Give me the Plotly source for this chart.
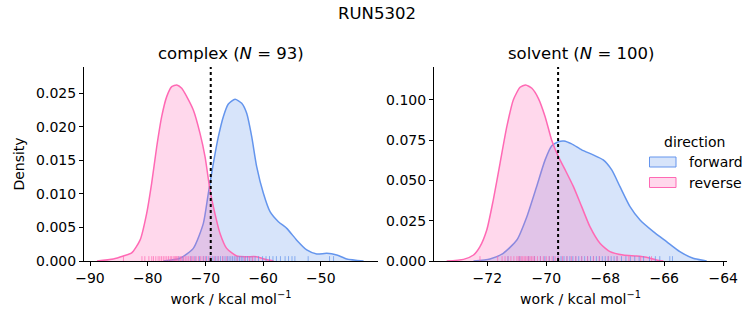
import plotly.graph_objects as go

W, H = 753, 325

# ---------------- data ----------------
# complex leg: KDE curves (work in kcal/mol, density)
cx_fwd_x = [-77.3, -74.4, -72.10, -70.36, -69.5, -68.63, -67.76, -66.9, -66.03, -64.87, -63.71,
            -62.85, -61.98, -61.12, -59.96, -58.81, -57.36, -55.91, -54.18, -52.45, -50.72,
            -48.98, -47.25, -45.52, -42.6]
cx_fwd_y = [0.0, 0.0004, 0.00188, 0.0056, 0.01007, 0.01453, 0.0185, 0.02148, 0.02336, 0.02406,
            0.02346, 0.02197, 0.0185, 0.01404, 0.01007, 0.00734, 0.00585, 0.00486, 0.0031,
            0.00164, 0.00104, 0.00114, 0.00089, 0.0003, 0.0]
cx_rev_x = [-88.8, -85.96, -84.22, -82.78, -81.33, -80.18, -79.32, -78.44, -77.58, -76.71, -75.84,
            -74.97, -74.11, -73.24, -72.10, -70.94, -70.07, -69.21, -68.63, -67.47, -66.32,
            -64.58, -62.85, -61.12, -59.67, -58.2]
cx_rev_y = [0.0, 0.0003, 0.00074, 0.0012, 0.0031, 0.0071, 0.01156, 0.0170, 0.02148, 0.02446,
            0.02594, 0.02619, 0.0257, 0.02446, 0.02247, 0.0190, 0.01553, 0.01057, 0.00809,
            0.0041, 0.00188, 0.00074, 0.00064, 0.00064, 0.00025, 0.0]

# solvent leg
sv_fwd_x = [-72.47, -71.91, -71.46, -71.0, -70.66, -70.33, -70.04, -69.82, -69.59, -69.40, -69.14,
            -68.80, -68.41, -68.07, -67.78, -67.50, -67.16, -66.82, -66.37, -65.92, -65.47,
            -65.02, -64.56]
sv_fwd_y = [0.0, 0.0012, 0.0048, 0.013, 0.0275, 0.0461, 0.0627, 0.0713, 0.0740, 0.0744, 0.0726,
            0.0689, 0.0658, 0.0627, 0.0565, 0.0461, 0.0337, 0.0254, 0.0182, 0.012, 0.0058,
            0.0017, 0.0]
sv_rev_x = [-73.38, -72.81, -72.47, -72.25, -72.02, -71.80, -71.57, -71.34, -71.12, -70.89, -70.70,
            -70.49, -70.27, -70.04, -69.82, -69.59, -69.36, -69.08, -68.80, -68.52, -68.18,
            -67.84, -67.39, -66.94, -66.60, -66.26, -66.03]
sv_rev_y = [0.0, 0.001, 0.0037, 0.0089, 0.0192, 0.0378, 0.0606, 0.0833, 0.0999, 0.1077, 0.1092,
            0.1071, 0.1009, 0.0895, 0.0751, 0.0647, 0.0565, 0.0461, 0.0337, 0.0213, 0.011,
            0.0058, 0.0037, 0.0031, 0.0023, 0.0006, 0.0]

# rug samples (estimated positions)
cx_fwd_rug = [-74.6, -73.9, -72.5, -71.8, -71.0, -70.3, -69.8, -69.2, -68.7, -68.2, -67.8, -67.4,
              -67.0, -66.6, -66.2, -65.9, -65.6, -65.3, -65.0, -64.7, -64.4, -64.1, -63.8, -63.5,
              -63.1, -62.7, -62.3, -61.9, -61.4, -60.8, -60.1, -59.5, -58.9, -58.3, -57.7, -57.0,
              -56.2, -55.6, -55.0, -54.5, -52.2, -48.5, -47.8]
cx_rev_rug = [-84.2, -81.0, -80.5, -79.8, -79.3, -79.0, -78.6, -78.2, -77.9, -77.6, -77.3, -77.0,
              -76.7, -76.4, -76.1, -75.9, -75.6, -75.4, -75.2, -75.0, -74.8, -74.6, -74.3, -74.1,
              -73.8, -73.5, -73.2, -72.9, -72.6, -72.3, -72.0, -71.6, -71.2, -70.8, -70.4, -70.0,
              -69.5, -69.0, -68.4, -67.8, -67.0, -66.3, -64.5, -63.2, -62.4, -61.8]
sv_fwd_rug = [-71.3, -70.9, -70.6, -70.4, -70.2, -70.05, -69.9, -69.75, -69.6, -69.5, -69.4, -69.3,
              -69.2, -69.1, -69.0, -68.9, -68.8, -68.7, -68.6, -68.5, -68.4, -68.3, -68.2, -68.1,
              -68.0, -67.9, -67.8, -67.7, -67.6, -67.45, -67.3, -67.15, -67.0, -66.85, -66.7,
              -66.5, -66.3, -66.15, -65.81, -65.72]
sv_rev_rug = [-72.25, -71.65, -71.5, -71.4, -71.3, -71.2, -71.1, -71.0, -70.95, -70.9, -70.85,
              -70.8, -70.75, -70.7, -70.65, -70.6, -70.55, -70.5, -70.45, -70.4, -70.3, -70.2,
              -70.1, -70.0, -69.9, -69.8, -69.7, -69.6, -69.45, -69.3, -69.15, -69.0, -68.8,
              -68.6, -68.4, -68.2, -67.9, -67.6, -67.2, -66.8, -66.43]

# free-energy estimate (dotted lines)
dg_complex = -69.08
dg_solvent = -69.60

titles = ["complex (<i>N</i> = 93)", "solvent (<i>N</i> = 100)"]
suptitle = "RUN5302"
directions = ["forward", "reverse"]

# ---------------- style ----------------
BLUE = "#6495ED"
PINK = "#FF69B4"
BLUE_FILL = "rgba(100,149,237,0.26)"
PINK_FILL = "rgba(255,105,180,0.26)"
FONT = "DejaVu Sans"
FS = 14
TS = 16.5

x1_range = [-91.04, -40.1]
x2_range = [-73.81, -63.87]
y1_range = [0, 0.02887]
y2_range = [0, 0.1203]

def px(x):
    return x / W

def py(y):
    return 1 - y / H

fig = go.Figure()

def add_leg(xs, ys, xa, ya, color, fill):
    fig.add_trace(go.Scatter(x=xs, y=ys, xaxis=xa, yaxis=ya, mode="lines",
                             line=dict(color=color, width=1.5, shape="spline", smoothing=0.6),
                             fill="tozeroy", fillcolor=fill, showlegend=False, hoverinfo="skip"))

def add_rug(vals, xa, ya, ymax, color):
    h = 0.025 * ymax
    xs, ys = [], []
    for v in vals:
        xs += [v, v, None]
        ys += [0, h, None]
    fig.add_trace(go.Scatter(x=xs, y=ys, xaxis=xa, yaxis=ya, mode="lines",
                             line=dict(color=color, width=1), opacity=0.7,
                             showlegend=False, hoverinfo="skip"))

add_leg(cx_fwd_x, cx_fwd_y, "x", "y", BLUE, BLUE_FILL)
add_leg(cx_rev_x, cx_rev_y, "x", "y", PINK, PINK_FILL)
add_leg(sv_fwd_x, sv_fwd_y, "x2", "y2", BLUE, BLUE_FILL)
add_leg(sv_rev_x, sv_rev_y, "x2", "y2", PINK, PINK_FILL)

add_rug(cx_fwd_rug, "x", "y", y1_range[1], BLUE)
add_rug(cx_rev_rug, "x", "y", y1_range[1], PINK)
add_rug(sv_fwd_rug, "x2", "y2", y2_range[1], BLUE)
add_rug(sv_rev_rug, "x2", "y2", y2_range[1], PINK)

for v, xa, ya, ymax in [(dg_complex, "x", "y", y1_range[1]), (dg_solvent, "x2", "y2", y2_range[1])]:
    fig.add_trace(go.Scatter(x=[v, v], y=[0, ymax], xaxis=xa, yaxis=ya, mode="lines",
                             line=dict(color="black", width=2, dash="dot"),
                             showlegend=False, hoverinfo="skip"))

ax_common = dict(showgrid=False, zeroline=False, showline=True, linecolor="black", linewidth=1,
                 ticks="outside", ticklen=4, tickwidth=1, tickcolor="black", automargin=False,
                 tickfont=dict(family=FONT, size=FS, color="black"))

y_dom = [py(261), py(67)]
fig.update_layout(
    width=W, height=H, margin=dict(l=0, r=0, t=0, b=0, autoexpand=False),
    paper_bgcolor="white", plot_bgcolor="rgba(0,0,0,0)",
    font=dict(family=FONT, color="black"),
    xaxis=dict(domain=[px(84), px(378)], range=x1_range, dtick=10, anchor="y",
               title=dict(text="work / kcal mol<sup>−1</sup>", font=dict(size=FS), standoff=9),
               **ax_common),
    yaxis=dict(domain=y_dom, range=y1_range, dtick=0.005, tickformat=".3f", anchor="x",
               title=dict(text="Density", font=dict(size=FS), standoff=8), **ax_common),
    xaxis2=dict(domain=[px(434), px(727)], range=x2_range, dtick=2, anchor="y2",
                title=dict(text="work / kcal mol<sup>−1</sup>", font=dict(size=FS), standoff=9),
                **ax_common),
    yaxis2=dict(domain=y_dom, range=y2_range, dtick=0.025, tickformat=".3f", anchor="x2",
                **ax_common),
)

ann = []
ann.append(dict(text=suptitle, x=0.5, y=py(13), xref="paper", yref="paper",
                showarrow=False, font=dict(size=TS, family=FONT), xanchor="center", yanchor="middle"))
ann.append(dict(text=titles[0], x=px(231), y=py(54), xref="paper", yref="paper",
                showarrow=False, font=dict(size=TS, family=FONT), xanchor="center", yanchor="middle"))
ann.append(dict(text=titles[1], x=px(580.5), y=py(54), xref="paper", yref="paper",
                showarrow=False, font=dict(size=TS, family=FONT), xanchor="center", yanchor="middle"))

# legend (drawn manually)
ann.append(dict(text="direction", x=px(694.5), y=py(142), xref="paper", yref="paper",
                showarrow=False, font=dict(size=FS, family=FONT), xanchor="center", yanchor="middle"))
shapes = []
for i, (name, col, fill) in enumerate([(directions[0], BLUE, BLUE_FILL), (directions[1], PINK, PINK_FILL)]):
    yc = 162 + 20.5 * i
    shapes.append(dict(type="rect", xref="paper", yref="paper",
                       x0=px(649.5), x1=px(676), y0=py(yc - 5), y1=py(yc + 5),
                       line=dict(color=col, width=1), fillcolor=fill))
    ann.append(dict(text=name, x=px(687), y=py(yc), xref="paper", yref="paper",
                    showarrow=False, font=dict(size=FS, family=FONT), xanchor="left", yanchor="middle"))

fig.update_layout(annotations=ann, shapes=shapes)
fig.write_html("out.html")
